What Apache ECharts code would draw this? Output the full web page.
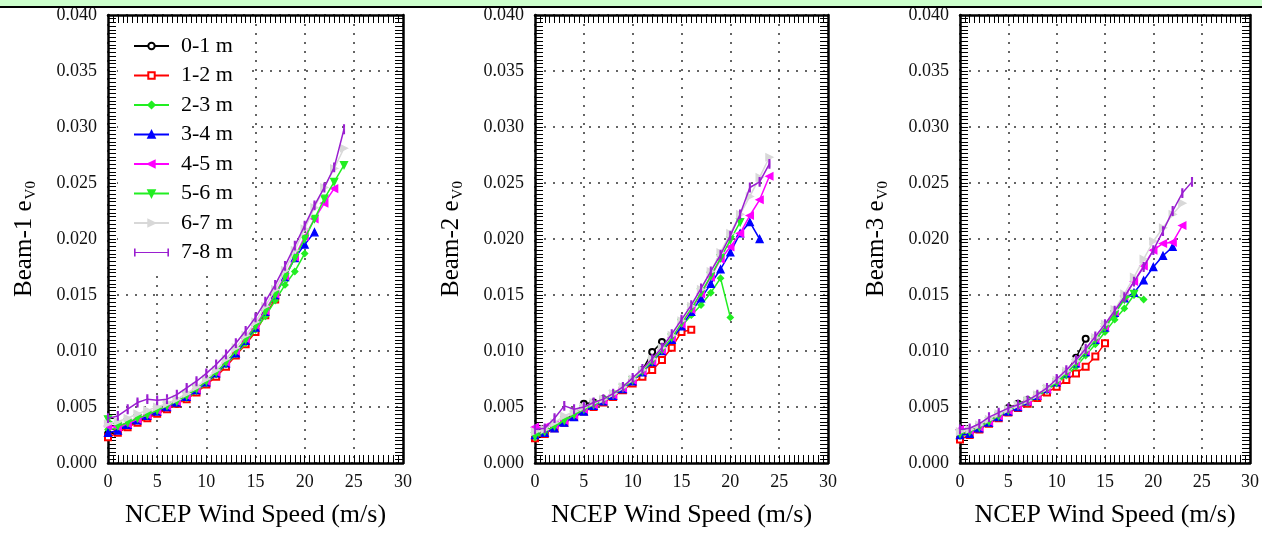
<!DOCTYPE html>
<html>
<head>
<meta charset="utf-8">
<script src="https://cdn.jsdelivr.net/npm/echarts@6/dist/echarts.min.js"></script>
<style>html,body{margin:0;padding:0;background:#fff;}#c{width:1262px;height:546px;}</style>
</head>
<body>
<div id="c"></div>
<script>
// ---- data ----
var seriesNames = ['0-1 m','1-2 m','2-3 m','3-4 m','4-5 m','5-6 m','6-7 m','7-8 m'];
var xTicks = [0,5,10,15,20,25,30];
var beamLabels = ['Beam-1','Beam-2','Beam-3'];

// Beam-1 (values at wind speed 0,1,2,...)
var b1_s0 = [0.0026,0.0029,0.0033,0.0037,0.0041,0.0045,0.0049,0.0053,0.0058,0.0064,0.0071,0.0079,0.0088];
var b1_s1 = [0.0023,0.0027,0.0032,0.0036,0.0040,0.0044,0.0048,0.0053,0.0057,0.0063,0.0070,0.0077,0.0086,0.0096,0.0106,0.0117,0.0132,0.0146];
var b1_s2 = [0.0030,0.0031,0.0034,0.0038,0.0042,0.0046,0.0050,0.0054,0.0058,0.0064,0.0071,0.0079,0.0088,0.0097,0.0107,0.0119,0.0131,0.0145,0.0159,0.0171,0.0187];
var b1_s3 = [0.0027,0.0029,0.0034,0.0038,0.0042,0.0046,0.0050,0.0054,0.0059,0.0065,0.0072,0.0080,0.0089,0.0098,0.0109,0.0121,0.0135,0.0150,0.0166,0.0183,0.0195,0.0206];
var b1_s4 = [0.0033,0.0032,0.0035,0.0039,0.0043,0.0047,0.0051,0.0055,0.0060,0.0066,0.0073,0.0081,0.0090,0.0100,0.0111,0.0123,0.0136,0.0151,0.0167,0.0184,0.0202,0.0218,0.0232,0.0245];
var b1_s5 = [0.0039,0.0033,0.0036,0.0040,0.0043,0.0047,0.0051,0.0055,0.0060,0.0066,0.0073,0.0081,0.0090,0.0100,0.0110,0.0122,0.0135,0.0150,0.0166,0.0183,0.0200,0.0218,0.0236,0.0251,0.0266];
var b1_s6 = [0.0035,0.0037,0.0040,0.0044,0.0047,0.0050,0.0053,0.0057,0.0062,0.0068,0.0075,0.0083,0.0093,0.0103,0.0114,0.0126,0.0140,0.0155,0.0172,0.0190,0.0209,0.0228,0.0246,0.0263,0.0281];
var b1_s7 = [0.0040,0.0042,0.0048,0.0054,0.0057,0.0056,0.0057,0.0061,0.0067,0.0073,0.0080,0.0088,0.0097,0.0107,0.0118,0.0130,0.0144,0.0159,0.0176,0.0194,0.0212,0.0230,0.0246,0.0264,0.0298];

// Beam-2
var b2_s0 = [0.0025,0.0028,0.0033,0.0038,0.0044,0.0053,0.0054,0.0057,0.0061,0.0067,0.0074,0.0083,0.0099,0.0108];
var b2_s1 = [0.0022,0.0026,0.0031,0.0036,0.0041,0.0046,0.0050,0.0054,0.0059,0.0065,0.0071,0.0077,0.0083,0.0092,0.0103,0.0117,0.0119];
var b2_s2 = [0.0023,0.0027,0.0032,0.0037,0.0042,0.0047,0.0051,0.0055,0.0060,0.0066,0.0073,0.0081,0.0090,0.0100,0.0110,0.0122,0.0132,0.0141,0.0152,0.0165,0.0130];
var b2_s3 = [0.0025,0.0027,0.0031,0.0036,0.0041,0.0046,0.0051,0.0055,0.0060,0.0066,0.0073,0.0081,0.0090,0.0100,0.0110,0.0122,0.0135,0.0147,0.0160,0.0173,0.0188,0.0205,0.0215,0.0200];
var b2_s4 = [0.0032,0.0032,0.0034,0.0038,0.0043,0.0048,0.0052,0.0056,0.0061,0.0067,0.0074,0.0082,0.0091,0.0101,0.0112,0.0124,0.0137,0.0151,0.0166,0.0182,0.0193,0.0205,0.0221,0.0235,0.0256];
var b2_s5 = [0.0024,0.0028,0.0033,0.0038,0.0043,0.0048,0.0052,0.0056,0.0061,0.0067,0.0074,0.0082,0.0091,0.0101,0.0112,0.0125,0.0138,0.0152,0.0167,0.0183,0.0199,0.0215];
var b2_s6 = [0.0028,0.0030,0.0036,0.0042,0.0046,0.0050,0.0054,0.0057,0.0062,0.0068,0.0075,0.0083,0.0093,0.0103,0.0114,0.0127,0.0140,0.0155,0.0171,0.0188,0.0205,0.0222,0.0238,0.0255,0.0273];
var b2_s7 = [0.0030,0.0031,0.0040,0.0051,0.0048,0.0050,0.0054,0.0057,0.0062,0.0068,0.0076,0.0084,0.0093,0.0103,0.0115,0.0128,0.0141,0.0156,0.0171,0.0186,0.0203,0.0222,0.0246,0.0251,0.0267];

// Beam-3
var b3_s0 = [0.0025,0.0028,0.0033,0.0038,0.0043,0.0049,0.0053,0.0056,0.0060,0.0066,0.0073,0.0081,0.0094,0.0111];
var b3_s1 = [0.0021,0.0025,0.0030,0.0035,0.0040,0.0045,0.0049,0.0053,0.0058,0.0063,0.0068,0.0074,0.0080,0.0086,0.0095,0.0107];
var b3_s2 = [0.0024,0.0026,0.0031,0.0036,0.0041,0.0046,0.0050,0.0054,0.0059,0.0065,0.0071,0.0078,0.0086,0.0096,0.0106,0.0117,0.0128,0.0138,0.0150,0.0146];
var b3_s3 = [0.0025,0.0026,0.0031,0.0036,0.0041,0.0046,0.0050,0.0055,0.0060,0.0066,0.0072,0.0080,0.0089,0.0099,0.0110,0.0121,0.0134,0.0147,0.0152,0.0163,0.0175,0.0185,0.0193];
var b3_s4 = [0.0030,0.0029,0.0032,0.0037,0.0042,0.0047,0.0051,0.0055,0.0060,0.0066,0.0073,0.0081,0.0090,0.0100,0.0111,0.0122,0.0135,0.0149,0.0162,0.0176,0.0190,0.0196,0.0197,0.0212];
var b3_s5 = [0.0026,0.0028,0.0032,0.0037,0.0042,0.0047,0.0051,0.0055,0.0060,0.0066,0.0072,0.0080,0.0089,0.0099,0.0110,0.0121,0.0133,0.0146,0.0151];
var b3_s6 = [0.0028,0.0030,0.0034,0.0039,0.0044,0.0048,0.0052,0.0056,0.0061,0.0067,0.0074,0.0082,0.0091,0.0101,0.0112,0.0124,0.0137,0.0151,0.0166,0.0182,0.0198,0.0210,0.0222,0.0232];
var b3_s7 = [0.0030,0.0031,0.0035,0.0041,0.0045,0.0049,0.0052,0.0056,0.0061,0.0067,0.0075,0.0083,0.0092,0.0102,0.0113,0.0124,0.0136,0.0148,0.0162,0.0175,0.0190,0.0207,0.0225,0.0241,0.0251];

var beams = [
  [b1_s0,b1_s1,b1_s2,b1_s3,b1_s4,b1_s5,b1_s6,b1_s7],
  [b2_s0,b2_s1,b2_s2,b2_s3,b2_s4,b2_s5,b2_s6,b2_s7],
  [b3_s0,b3_s1,b3_s2,b3_s3,b3_s4,b3_s5,b3_s6,b3_s7]
];

// ---- styles ----
var FONT = '"Liberation Serif", "DejaVu Serif", serif';
var colors  = ['#000000','#ff0000','#22ee22','#0000ff','#ff00ff','#22ee22','#d8d8d8','#9a1fd0'];
var symbols = ['emptyCircle','emptyRect','diamond','triangle','triangle','triangle','triangle','rect'];
var rotates = [0,0,0,0,90,180,-90,0];
var sizes   = [6,6,6,7,7,7,7,[1.5,7]];
var BAR_ICON = 'path://M0,0 h1.6 v3.4 h31.8 v-3.4 h1.6 v8 h-1.6 v-3.4 h-31.8 v3.4 h-1.6 z';

var gridPos = [
  {left:108, top:15, width:295, height:448},
  {left:535, top:15, width:293, height:448},
  {left:960, top:15, width:295, height:448}
];

var grids = [], xAxes = [], yAxes = [], series = [];
gridPos.forEach(function(g, gi){
  grids.push({left:g.left, top:g.top, width:g.width, height:g.height, show:false});
  var tickCommon = {show:true, inside:true, length:8, lineStyle:{color:'#000', width:1}};
  var lineCommon = {show:true, onZero:false, lineStyle:{color:'#000', width:2.5}};
  // bottom x
  xAxes.push({
    type:'value', gridIndex:gi, min:0, max:30, interval:5, position:'bottom',
    axisLine:lineCommon, axisTick:tickCommon,
    minorTick:{show:true, splitNumber:10, length:8, lineStyle:{color:'#000', width:1}},
    splitLine:{show:true, lineStyle:{color:'#333', width:1.5, type:[2,7]}},
    axisLabel:{fontFamily:FONT, fontSize:18, color:'#111', margin:10},
    name:'NCEP Wind Speed (m/s)', nameLocation:'middle', nameGap:39,
    nameTextStyle:{fontFamily:FONT, fontSize:26, color:'#000'}
  });
  // top x (frame)
  xAxes.push({
    type:'value', gridIndex:gi, min:0, max:30, interval:5, position:'top',
    axisLine:lineCommon, axisTick:tickCommon,
    minorTick:{show:true, splitNumber:10, length:8, lineStyle:{color:'#000', width:1}},
    splitLine:{show:false}, axisLabel:{show:false}
  });
  // left y
  yAxes.push({
    type:'value', gridIndex:gi, min:0, max:0.04, interval:0.005, position:'left',
    axisLine:lineCommon, axisTick:tickCommon,
    minorTick:{show:true, splitNumber:15, length:8, lineStyle:{color:'#000', width:1}},
    splitLine:{show:true, lineStyle:{color:'#333', width:1.5, type:[2,7]}},
    axisLabel:{fontFamily:FONT, fontSize:18, color:'#111', margin:11,
      formatter:function(v){return v.toFixed(3);}},
    name:'{m|' + beamLabels[gi] + ' e}{s|V0}', nameLocation:'middle', nameGap:68,
    nameTextStyle:{fontFamily:FONT, fontSize:25, color:'#000',
      rich:{
        m:{fontFamily:FONT, fontSize:25, color:'#000', lineHeight:28, verticalAlign:'top'},
        s:{fontFamily:FONT, fontSize:15, color:'#000', lineHeight:15, verticalAlign:'top', padding:[12,0,0,1]}
      }}
  });
  // right y (frame)
  yAxes.push({
    type:'value', gridIndex:gi, min:0, max:0.04, interval:0.005, position:'right',
    axisLine:lineCommon, axisTick:tickCommon,
    minorTick:{show:true, splitNumber:15, length:8, lineStyle:{color:'#000', width:1}},
    splitLine:{show:false}, axisLabel:{show:false}
  });

  beams[gi].forEach(function(arr, si){
    series.push({
      type:'line', name:seriesNames[si],
      xAxisIndex:gi*2, yAxisIndex:gi*2,
      data:arr.map(function(v,i){return [i, v];}),
      symbol:symbols[si], symbolSize:sizes[si], symbolRotate:rotates[si],
      showAllSymbol:true,
      lineStyle:{color:colors[si], width:1.5},
      itemStyle:{color:colors[si], borderColor:colors[si], borderWidth:1.3},
      z:2+si, animation:false
    });
  });
});

var legendData = seriesNames.map(function(n, i){
  return i === 7 ? {name:n, icon:BAR_ICON, itemStyle:{borderWidth:0}} : {name:n};
});

var chart = echarts.init(document.getElementById('c'), null, {renderer:'canvas'});
chart.setOption({
  backgroundColor:'#fff',
  animation:false,
  grid:grids, xAxis:xAxes, yAxis:yAxes, series:series,
  legend:{
    data:legendData, orient:'vertical', left:118, top:24,
    padding:[11,13,12,15], backgroundColor:'#fff',
    itemWidth:35, itemHeight:8, itemGap:7.5,
    textStyle:{fontFamily:FONT, fontSize:22, color:'#000', lineHeight:22, padding:[0,0,0,7]},
    z:10
  },
  graphic:[
    {type:'rect', left:0, top:0, shape:{width:1262, height:6}, style:{fill:'#ccffcc'}, z:100},
    {type:'rect', left:0, top:6, shape:{width:1262, height:2}, style:{fill:'#000'}, z:100}
  ]
});
</script>
</body>
</html>
